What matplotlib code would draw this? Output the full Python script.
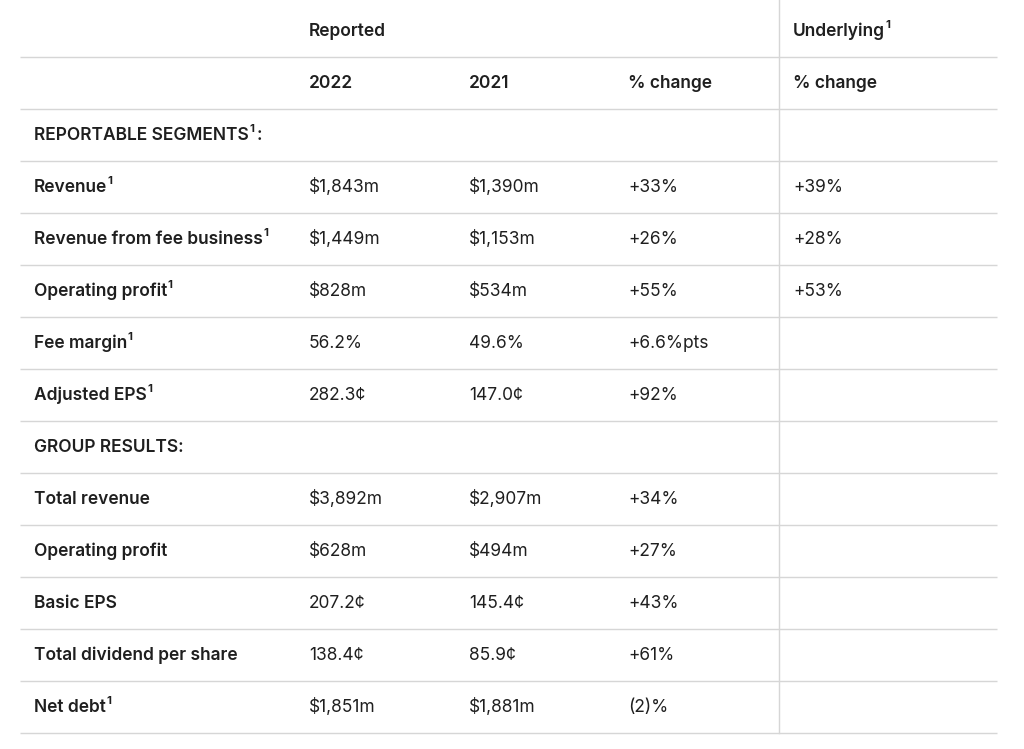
import matplotlib
matplotlib.use("Agg")
import matplotlib.pyplot as plt

# table content
row_labels = ["REPORTABLE SEGMENTS", "Revenue", "Revenue from fee business",
              "Operating profit", "Fee margin", "Adjusted EPS", "GROUP RESULTS:",
              "Total revenue", "Operating profit", "Basic EPS",
              "Total dividend per share", "Net debt"]
label_note = [True, True, True, True, True, True, False,
              False, False, False, False, True]
reported_2022 = ["", "$1,843m", "$1,449m", "$828m", "56.2%", "282.3¢", "",
                 "$3,892m", "$628m", "207.2¢", "138.4¢", "$1,851m"]
reported_2021 = ["", "$1,390m", "$1,153m", "$534m", "49.6%", "147.0¢", "",
                 "$2,907m", "$494m", "145.4¢", "85.9¢", "$1,881m"]
reported_change = ["", "+33%", "+26%", "+55%", "+6.6%pts", "+92%", "",
                   "+34%", "+27%", "+43%", "+61%", "(2)%"]
underlying_change = ["", "+39%", "+28%", "+53%", "", "", "",
                     "", "", "", "", ""]
header_groups = ["Reported", "Underlying"]
header_cols = ["2022", "2021", "% change", "% change"]

FONT = "Inter"
TXT = "#1f1f1f"
LINE = "#d6d6d6"
FS = 12.5

W, H = 1024, 749
fig = plt.figure(figsize=(W / 100, H / 100), dpi=100)
ax = fig.add_axes([0, 0, 1, 1])
ax.set_xlim(0, W)
ax.set_ylim(H, 0)
ax.axis("off")

col_x = [34, 309, 469, 628, 793]
row_h = 52
y0 = 31
renderer = fig.canvas.get_renderer()


def put(x, y, s, bold=False, note=False):
    t = ax.text(x, y, s, fontsize=FS, family=FONT, color=TXT,
                fontweight="semibold" if bold else "normal",
                ha="left", va="center")
    if note:
        bb = t.get_window_extent(renderer=renderer)
        xe = ax.transData.inverted().transform((bb.x1, bb.y1))[0]
        ax.text(xe + 0.5, y - 6.5, "1", fontsize=FS * 0.66, family=FONT,
                color=TXT, fontweight="bold", ha="left", va="center")
        return xe + 7.5
    return None


# horizontal rules
for k in range(len(row_labels) + 2):
    yl = 57 + k * row_h
    ax.plot([20, 997], [yl, yl], color=LINE, lw=1.0, solid_capstyle="butt")
# vertical divider
ax.plot([779, 779], [0, 733], color=LINE, lw=1.0)

# header rows
put(col_x[1], y0, header_groups[0], bold=True)
put(col_x[4], y0, header_groups[1], bold=True, note=True)
for j, h in enumerate(header_cols):
    put(col_x[j + 1], y0 + row_h, h, bold=True)

# body rows
for i, lab in enumerate(row_labels):
    y = y0 + (i + 2) * row_h
    xe = put(col_x[0], y, lab, bold=True, note=label_note[i])
    if i == 0:
        ax.text(xe, y, ":", fontsize=FS, family=FONT, color=TXT,
                fontweight="semibold", ha="left", va="center")
    for j, col in enumerate([reported_2022, reported_2021,
                             reported_change, underlying_change]):
        if col[i]:
            put(col_x[j + 1], y, col[i])

fig.savefig("out.png", dpi=100, facecolor="white")
